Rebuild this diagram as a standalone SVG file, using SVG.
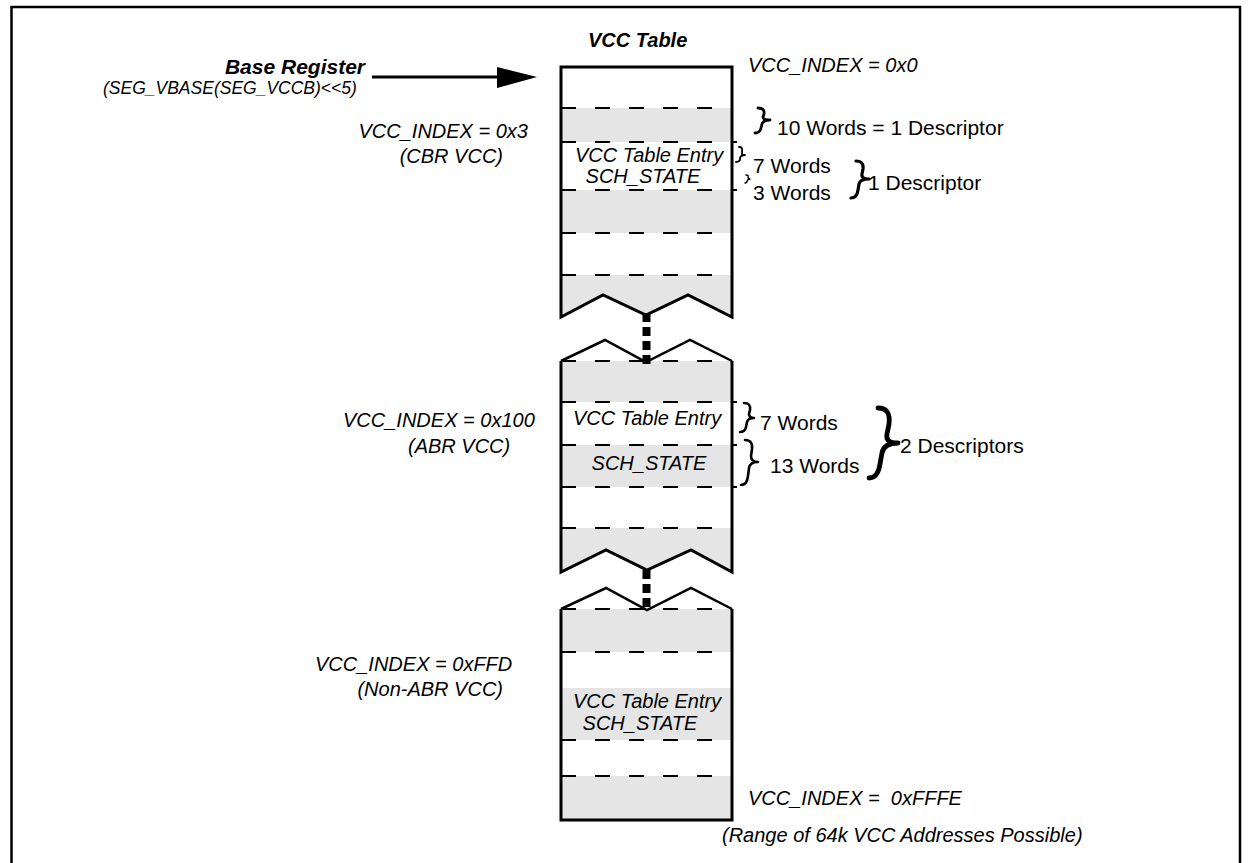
<svg xmlns="http://www.w3.org/2000/svg" width="1254" height="863" viewBox="0 0 1254 863">
<style>
  text { font-family: "Liberation Sans", Arial, sans-serif; fill: #000; }
  .it { font-style: italic; font-size: 20px; }
  .bi { font-style: italic; font-weight: bold; }
  .rg { font-size: 21px; }
  .gray { fill: #e5e5e5; stroke: none; }
  .border { fill: none; stroke: #000; stroke-width: 3; stroke-linejoin: miter; }
  .roof { fill: none; stroke: #000; stroke-width: 2.5; }
  .dash { stroke: #000; stroke-width: 2; stroke-dasharray: 15 19; fill: none; }
  .tick { stroke: #000; stroke-width: 2; }
  .dots { stroke: #000; stroke-width: 8; stroke-dasharray: 9 5; fill: none; }
  .brace { fill: none; stroke: #000; stroke-linecap: round; stroke-linejoin: round; }
</style>
<rect x="0" y="0" width="1254" height="863" fill="#fff"/>
<path d="M11.5,863 L11.5,7 L1240,7 L1240,863" fill="none" stroke="#000" stroke-width="2.5"/>

<g id="title">
  <text class="bi" x="588" y="47" font-size="20">VCC Table</text>
</g>

<g id="table-top">
  <rect class="gray" x="561" y="108" width="171" height="34"/>
  <rect class="gray" x="561" y="190" width="171" height="43"/>
  <polygon class="gray" points="561,275 732,275 732,317 688,295 646,315 603,295 561,317"/>
  <line class="dash" x1="561" y1="108" x2="732" y2="108"/>
  <line class="dash" x1="561" y1="142" x2="732" y2="142"/>
  <line class="dash" x1="561" y1="190" x2="732" y2="190"/>
  <line class="dash" x1="561" y1="233" x2="732" y2="233"/>
  <line class="dash" x1="561" y1="275" x2="732" y2="275"/>
  <line class="tick" x1="732" y1="142" x2="737" y2="142"/>
  <line class="tick" x1="732" y1="190" x2="737" y2="190"/>
  <path class="border" d="M561,317 L561,67 L732,67 L732,317 L688,295 L646,315 L603,295 Z"/>
  <text class="it" x="575" y="162">VCC Table Entry</text>
  <text class="it" x="643" y="183" text-anchor="middle">SCH_STATE</text>
</g>

<g id="table-middle">
  <rect class="gray" x="561" y="361" width="171" height="41"/>
  <rect class="gray" x="561" y="445" width="171" height="42"/>
  <polygon class="gray" points="561,528 732,528 732,572 691,550 647,570 606,550 561,572"/>
  <line class="dash" x1="561" y1="361" x2="732" y2="361"/>
  <line class="dash" x1="561" y1="402" x2="732" y2="402"/>
  <line class="dash" x1="561" y1="445" x2="732" y2="445"/>
  <line class="dash" x1="561" y1="487" x2="732" y2="487"/>
  <line class="dash" x1="561" y1="528" x2="732" y2="528"/>
  <line class="tick" x1="732" y1="402" x2="737" y2="402"/>
  <line class="tick" x1="732" y1="445" x2="737" y2="445"/>
  <line class="tick" x1="732" y1="487" x2="737" y2="487"/>
  <polyline class="roof" points="561,361 605,340 646,362 690,340 732,361"/>
  <path class="border" d="M561,361 L561,572 L606,550 L647,570 L691,550 L732,572 L732,361"/>
  <text class="it" x="573" y="425">VCC Table Entry</text>
  <text class="it" x="649" y="470" text-anchor="middle">SCH_STATE</text>
</g>

<g id="table-bottom">
  <rect class="gray" x="561" y="609" width="171" height="43"/>
  <rect class="gray" x="561" y="688" width="171" height="52"/>
  <rect class="gray" x="561" y="776" width="171" height="44"/>
  <line class="dash" x1="561" y1="609" x2="732" y2="609"/>
  <line class="dash" x1="561" y1="652" x2="732" y2="652"/>
  <line class="dash" x1="561" y1="740" x2="732" y2="740"/>
  <line class="dash" x1="561" y1="776" x2="732" y2="776"/>
  <polyline class="roof" points="561,609 606,588 647,610 691,588 732,609"/>
  <path class="border" d="M561,609 L561,820 L732,820 L732,609"/>
  <text class="it" x="573" y="708">VCC Table Entry</text>
  <text class="it" x="640" y="730" text-anchor="middle">SCH_STATE</text>
</g>

<g id="connectors">
  <line class="dots" x1="646.5" y1="313" x2="646.5" y2="364"/>
  <line class="dots" x1="646.5" y1="570" x2="646.5" y2="610"/>
  <line x1="372" y1="77" x2="500" y2="77" stroke="#000" stroke-width="3"/>
  <polygon points="497,67 537,77 497,88" fill="#000"/>
</g>

<g id="base-register">
  <text class="bi" x="365" y="74" font-size="21" text-anchor="end">Base Register</text>
  <text class="it" x="103" y="94" style="font-size:17.5px">(SEG_VBASE(SEG_VCCB)&lt;&lt;5)</text>
</g>

<g id="label-0x3">
  <text class="it" x="528" y="138" text-anchor="end">VCC_INDEX = 0x3</text>
  <text class="it" x="503" y="163" text-anchor="end">(CBR VCC)</text>
</g>

<g id="label-0x0">
  <text class="it" x="748" y="72">VCC_INDEX = 0x0</text>
</g>

<g id="words-top">
  <path class="brace" stroke-width="2.8" d="M758,108 Q765,108 764,114 L763,117 Q763,120 770,120 Q763,120 762,124 L761,128 Q760,133 755,133"/>
  <text class="rg" x="777" y="135">10 Words = 1 Descriptor</text>
  <path class="brace" stroke-width="1.8" d="M739,147 Q743,147 742,151 L742,153 Q741,155 745,155 Q741,155 740,158 L740,160 Q739,162 736,162"/>
  <text class="rg" x="753" y="173">7 Words</text>
  <path class="brace" stroke-width="1.4" d="M746,175 Q749,175 748,177 Q748,179 750,179 Q748,179 747,181 Q747,183 745,183"/>
  <text class="rg" x="753" y="200">3 Words</text>
  <path class="brace" stroke-width="3.2" d="M856,161 Q864,161 863,169 L862,174 Q861,179 869,179 Q860,179 859,184 L858,190 Q857,198 851,198"/>
  <text class="rg" x="868" y="190">1 Descriptor</text>
</g>

<g id="label-0x100">
  <text class="it" x="343" y="427">VCC_INDEX = 0x100</text>
  <text class="it" x="408" y="453">(ABR VCC)</text>
</g>

<g id="words-middle">
  <path class="brace" stroke-width="2.6" d="M744,403 Q751,403 750,410 L749,414 Q749,418 754,418 Q748,418 747,422 L746,427 Q745,432 740,432"/>
  <text class="rg" x="760" y="430">7 Words</text>
  <path class="brace" stroke-width="2.6" d="M745,440 Q753,440 752,449 L751,456 Q751,462 758,462 Q750,462 749,468 L748,476 Q747,485 741,485"/>
  <text class="rg" x="770" y="473">13 Words</text>
  <path class="brace" stroke-width="4.8" d="M878,408 Q891,408 889,424 L887,434 Q885,443 898,443 Q884,443 882,453 L880,464 Q878,478 869,478"/>
  <text class="rg" x="900" y="453">2 Descriptors</text>
</g>

<g id="label-0xFFD">
  <text class="it" x="315" y="671">VCC_INDEX = 0xFFD</text>
  <text class="it" x="503" y="696" text-anchor="end">(Non-ABR VCC)</text>
</g>

<g id="label-0xFFFE">
  <text class="it" x="748" y="805" xml:space="preserve">VCC_INDEX =  0xFFFE</text>
  <text class="it" x="722" y="842">(Range of 64k VCC Addresses Possible)</text>
</g>
</svg>
